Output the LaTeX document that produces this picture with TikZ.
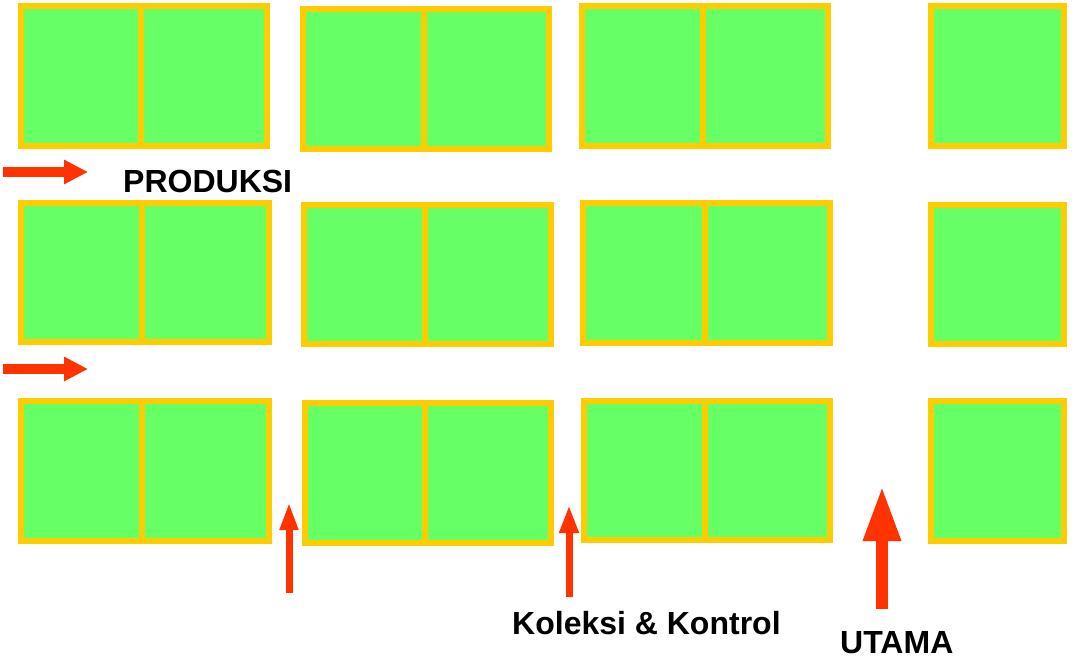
\documentclass[tikz,border=0pt]{standalone}
\usepackage{fontspec}
\setmainfont{Liberation Sans}
\usetikzlibrary{arrows.meta}
\definecolor{cellgreen}{HTML}{66FF66}
\definecolor{celledge}{HTML}{FFCC00}
\definecolor{arrowred}{HTML}{FF3300}
\tikzset{
  cellbox/.style={rectangle, draw=celledge, fill=cellgreen, line width=6pt, inner sep=0pt, outer sep=0pt},
  redarrow/.style={draw=arrowred, line cap=butt},
  lbl/.style={anchor=base west, inner sep=0pt, font=\fontsize{32}{32}\selectfont\bfseries}
}
% single cell: name, left, top, right, bottom (path coordinates)
\newcommand\mkcell[5]{%
  \pgfmathsetmacro\cellw{#4-#2}\pgfmathsetmacro\cellh{#5-#3}%
  \node[cellbox, minimum width=\cellw pt, minimum height=\cellh pt] (#1) at ({(#2+#4)/2},{(#3+#5)/2}) {};}
% two-cell box from outer edges: name, x1, y1, x2, y2, divider x
\newcommand\mktwo[6]{%
  \mkcell{#1a}{#2+3}{#3+3}{#6}{#5-3}%
  \mkcell{#1b}{#6}{#3+3}{#4-3}{#5-3}}
% one-cell box from outer edges
\newcommand\mkone[5]{\mkcell{#1}{#2+3}{#3+3}{#4-3}{#5-3}}
\begin{document}
\begin{tikzpicture}[x=1pt,y=-1pt]
\useasboundingbox (0,0) rectangle (1080,660);
% row 1
\mktwo{b11}{21}{6}{270}{146}{141}
\mktwo{b12}{303}{9}{552}{149}{424}
\mktwo{b13}{582}{6}{831}{146}{703}
\mkone{b14}{931}{6}{1064}{146}
% row 2
\mktwo{b21}{21}{203}{272}{342}{142}
\mktwo{b22}{304}{205}{554}{344}{425}
\mktwo{b23}{583}{203}{833}{343}{705}
\mkone{b24}{931}{205}{1064}{344}
% row 3
\mktwo{b31}{21}{401}{272}{541}{142}
\mktwo{b32}{305}{403}{554}{543}{425}
\mktwo{b33}{584}{401}{833}{540}{705}
\mkone{b34}{931}{401}{1064}{541}
% arrows
\coordinate (h1s) at (3,172);   \coordinate (h1e) at (88,172);
\coordinate (h2s) at (3,369);   \coordinate (h2e) at (88,369);
\coordinate (v1s) at (289,593); \coordinate (v1e) at (289,502);
\coordinate (v2s) at (569,597); \coordinate (v2e) at (569,505);
\coordinate (v3s) at (882,609); \coordinate (v3e) at (882,486);
\draw[redarrow, line width=10pt, -{Triangle[width=23pt,length=24pt]}] (h1s) -- (h1e);
\draw[redarrow, line width=10pt, -{Triangle[width=23pt,length=24pt]}] (h2s) -- (h2e);
\draw[redarrow, line width=7pt, -{Triangle[width=17pt,length=28pt]}] (v1s) -- (v1e);
\draw[redarrow, line width=7pt, -{Triangle[width=18pt,length=28pt]}] (v2s) -- (v2e);
\draw[redarrow, line width=12pt, -{Triangle[width=35pt,length=55pt]}] (v3s) -- (v3e);
% labels
\node[lbl] (produksi) at (123,193) {PRODUKSI};
\node[lbl] (koleksi) at (512,634) {Koleksi \& Kontrol};
\node[lbl] (utama) at (840,653) {UTAMA};
\end{tikzpicture}
\end{document}
